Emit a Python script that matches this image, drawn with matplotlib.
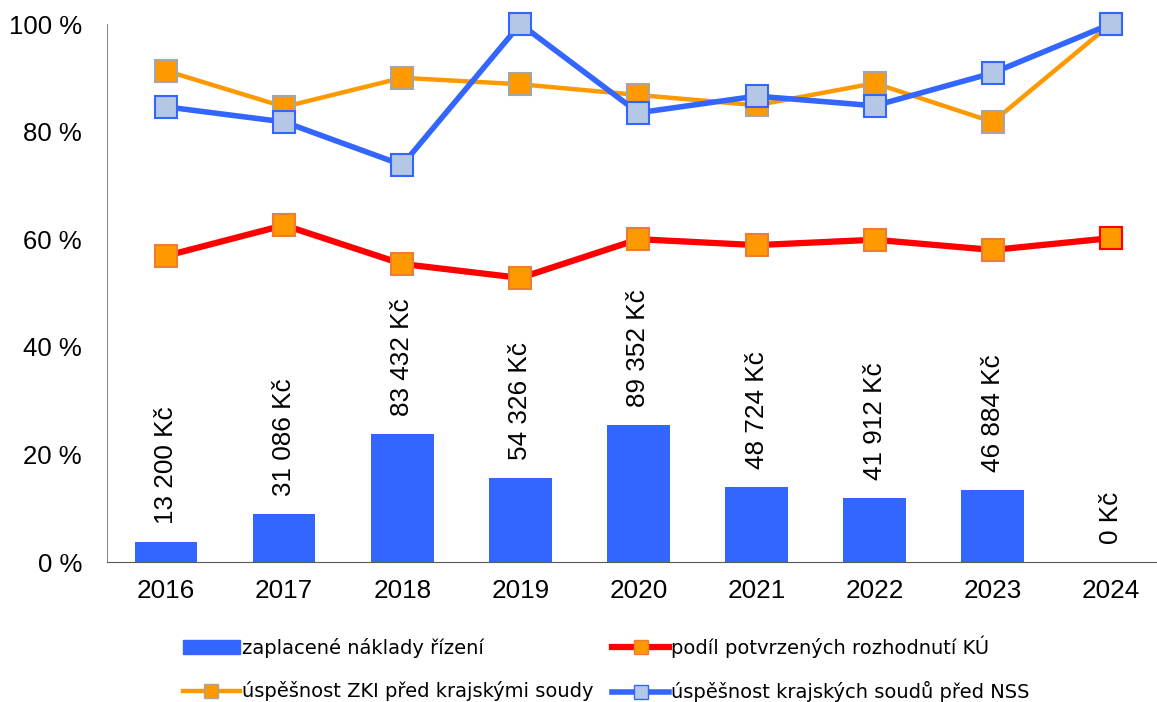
import matplotlib.pyplot as plt
from matplotlib.lines import Line2D
from matplotlib.patches import Patch

years = ['2016', '2017', '2018', '2019', '2020', '2021', '2022', '2023', '2024']
costs = [13200, 31086, 83432, 54326, 89352, 48724, 41912, 46884, 0]
confirmed_ku = [56.9, 62.6, 55.4, 52.8, 60.0, 58.9, 59.9, 58.0, 60.2]
zki_success = [91.3, 84.6, 90.0, 88.8, 86.8, 84.9, 89.0, 81.8, 100.0]
nss_success = [84.6, 81.8, 73.8, 100.0, 83.5, 86.6, 84.8, 90.9, 100.0]

labels = ['zaplacené náklady řízení', 'podíl potvrzených rozhodnutí KÚ',
          'úspěšnost ZKI před krajskými soudy', 'úspěšnost krajských soudů před NSS']

BAR_BLUE = '#3366FF'
LINE_BLUE = '#3366FF'
LIGHT_BLUE = '#B4C7E7'
ORANGE = '#FF9900'
RED = '#FF0000'

plt.rcParams['font.family'] = ['Liberation Sans', 'DejaVu Sans']

fig = plt.figure(figsize=(11.57, 7.02), dpi=100)
ax = fig.add_axes([107 / 1157, 140 / 702, 1050 / 1157, 538 / 702])
ax2 = ax.twinx()
ax.set_zorder(ax2.get_zorder() + 1)
ax.patch.set_visible(False)

x = list(range(len(years)))

# bars on hidden secondary scale
ax2.bar(x, costs, width=0.53, color=BAR_BLUE)
ax2.set_ylim(0, 350000)
ax2.axis('off')
for xi, c in zip(x, costs):
    txt = f'{c:,}'.replace(',', ' ') + ' Kč'
    ax2.annotate(txt, (xi, c), xytext=(0, 13), textcoords='offset points',
                 rotation=90, ha='center', va='bottom', fontsize=18.8)

ax.plot(x, confirmed_ku, color=RED, lw=4.5, marker='s', ms=16,
        mfc=ORANGE, mec='#ED7D31', mew=1.5, clip_on=False, zorder=3)
ax.plot(x[-1:], confirmed_ku[-1:], ls='none', marker='s', ms=16,
        mfc=ORANGE, mec=RED, mew=1.5, clip_on=False, zorder=3)
ax.plot(x, zki_success, color=ORANGE, lw=3.2, marker='s', ms=16,
        mfc=ORANGE, mec='#A5A5A5', mew=1.5, clip_on=False, zorder=4)
ax.plot(x, nss_success, color=LINE_BLUE, lw=4, marker='s', ms=16,
        mfc=LIGHT_BLUE, mec=LINE_BLUE, mew=1.5, clip_on=False, zorder=5)

ax.set_xlim(-0.5, -0.5 + 1050 / 118.1)
ax.set_ylim(0, 100)
ax.set_yticks(range(0, 101, 20))
ax.set_yticklabels([f'{v} %' for v in range(0, 101, 20)], fontsize=18.5)
ax.set_xticks(x)
ax.set_xticklabels(years, fontsize=18.8)
ax.tick_params(axis='x', length=0, pad=12)
ax.tick_params(axis='y', length=0, pad=18)
for s in ('top', 'right'):
    ax.spines[s].set_visible(False)
ax.spines['left'].set_color('#8c8c8c')
ax.spines['bottom'].set_color('#595959')

bar_h = Patch(color=BAR_BLUE)
red_h = Line2D([], [], color=RED, lw=4.5, marker='s', ms=10, mfc=ORANGE, mec='#ED7D31')
zki_h = Line2D([], [], color=ORANGE, lw=3.2, marker='s', ms=10, mfc=ORANGE, mec='#A5A5A5')
nss_h = Line2D([], [], color=LINE_BLUE, lw=4, marker='s', ms=10, mfc=LIGHT_BLUE, mec=LINE_BLUE)
# legend fills column-first, so order for rows: bar|red, zki|nss
fig.legend([bar_h, zki_h, red_h, nss_h], [labels[0], labels[2], labels[1], labels[3]],
           loc='center', bbox_to_anchor=(0.524, 0.047), ncol=2,
           frameon=False, prop={'family': 'DejaVu Sans', 'size': 14},
           handlelength=2.9, handletextpad=0.1, columnspacing=1.0, labelspacing=1.2)

fig.savefig('out.png', dpi=100)
